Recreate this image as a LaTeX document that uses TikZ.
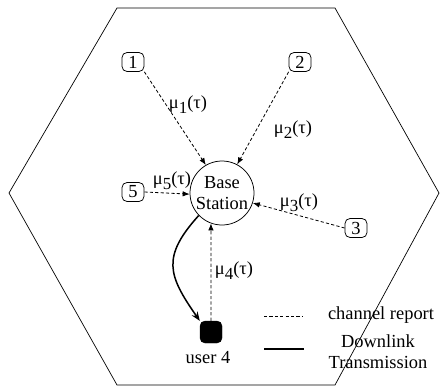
\documentclass[tikz,border=0pt]{standalone}
\usepackage{fontspec}
\setmainfont{Liberation Serif}
\usetikzlibrary{arrows.meta}
\newcommand{\mulab}[1]{μ\raisebox{-0.6ex}{\fontsize{17}{17}\selectfont #1}(τ)}
\begin{document}
\begin{tikzpicture}[x=1bp,y=-1bp,
  every node/.style={font=\fontsize{18.5}{20}\selectfont},
  user/.style={draw, rounded corners=5bp, minimum width=22bp, minimum height=19bp, inner sep=0pt, line width=0.75bp},
  report/.style={dashed, dash pattern=on 3.2bp off 2.2bp, line width=0.8bp, -{Latex[length=7bp,width=5.5bp]}},
  downlink/.style={line width=1.5bp, -{Stealth[length=9bp,width=7bp]}},
  lab/.style={inner sep=0pt}]
\useasboundingbox (0,0) rectangle (440,386);
% hexagon cell
\draw[line width=0.7bp] (117,8) coordinate (h1) -- (335,8) coordinate (h2) -- (439,193) coordinate (h3)
  -- (335,385) coordinate (h4) -- (117,385) coordinate (h5) -- (9,193) coordinate (h6) -- cycle;
% base station
\node[draw, circle, minimum size=64bp, inner sep=0pt, line width=0.75bp, align=center,
  font=\fontsize{18.5}{21}\selectfont] (bs) at (222,193) {Base\\Station};
% users
\node[user] (u1) at (133,62) {1};
\node[user] (u2) at (300,62) {2};
\node[user] (u5) at (133,192) {5};
\node[user] (u3) at (356,228) {3};
\node[fill=black, draw, rounded corners=5bp, minimum size=22bp, inner sep=0pt] (u4) at (211,332) {};
\node[lab] (u4l) at (208,358) {user 4};
% channel reports
\draw[report] (u1.south east) -- (bs.120);
\draw[report] (u2.south west) -- (bs.62);
\draw[report] (u5.east) -- (bs.182);
\draw[report] (u3.west) -- (bs.-18);
\draw[report] (u4.north) -- (bs.-110);
% labels
\node[lab] (l1) at (188,105) {\mulab{1}};
\node[lab] (l2) at (293,130) {\mulab{2}};
\node[lab] (l5) at (172,181) {\mulab{5}};
\node[lab] (l3) at (299,203) {\mulab{3}};
\node[lab] (l4) at (234,271) {\mulab{4}};
% downlink
\draw[downlink] (bs.224) to[out=228, in=125, looseness=1.35] (u4.north west);
% legend
\coordinate (ld1) at (264,316);
\coordinate (ld2) at (303,316);
\draw[dashed, dash pattern=on 3.2bp off 2.2bp, line width=0.8bp] (ld1) -- (ld2);
\node[lab] (lt1) at (381,315) {channel report};
\coordinate (ls1) at (264,349);
\coordinate (ls2) at (304,349);
\draw[line width=1.5bp] (ls1) -- (ls2);
\node[lab, align=center, font=\fontsize{18.5}{21}\selectfont] (lt2) at (378,352) {Downlink\\Transmission};
\end{tikzpicture}
\end{document}
